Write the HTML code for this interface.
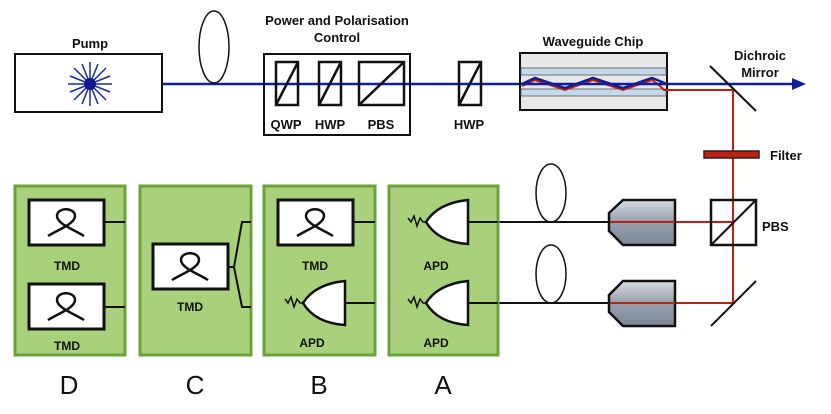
<!DOCTYPE html>
<html><head><meta charset="utf-8"><style>body{margin:0;background:#fff}svg{display:block}text{font-family:"Liberation Sans",sans-serif;font-weight:bold;fill:#111}</style></head><body>
<svg width="831" height="414" viewBox="0 0 831 414" xmlns="http://www.w3.org/2000/svg">
<defs>
<linearGradient id="g" x1="0" y1="0" x2="0" y2="1"><stop offset="0" stop-color="#d8dce2"/><stop offset="0.45" stop-color="#9aa3b0"/><stop offset="1" stop-color="#7d8797"/></linearGradient>
<g id="tmd"><rect x="0" y="0" width="75" height="45" fill="#fff" stroke="#111" stroke-width="3"/><path d="M19,36 C28,30 46,24 46,16 C46,7 28,7 28,16 C28,24 46,30 55,36" fill="none" stroke="#111" stroke-width="2.5"/></g>
<g id="apd"><path d="M50,0 L50,44 Q20,42 8,22 Q20,3 50,0 Z" fill="#fff" stroke="#111" stroke-width="2.5"/><path d="M-10,18 l3,4 l3,-6 l3,10 l3,-8 l3,4 l3,0" fill="none" stroke="#111" stroke-width="1.5"/></g>
</defs>
<rect x="15" y="54" width="147" height="58" fill="#fff" stroke="#111" stroke-width="2"/>
<text x="90" y="48" font-size="13" text-anchor="middle">Pump</text>
<g stroke="#1a2a9c" stroke-width="1.5">
<line x1="68" y1="84" x2="112" y2="84"/><line x1="90" y1="62" x2="90" y2="106"/>
<line x1="74" y1="68" x2="106" y2="100"/><line x1="74" y1="100" x2="106" y2="68"/>
<line x1="70" y1="76" x2="110" y2="92"/><line x1="70" y1="92" x2="110" y2="76"/>
<line x1="82" y1="64" x2="98" y2="104"/><line x1="98" y1="64" x2="82" y2="104"/>
</g>
<circle cx="90" cy="84" r="6" fill="#0d1a8a"/>
<line x1="162" y1="84" x2="796" y2="84" stroke="#0d1f9a" stroke-width="2.5"/>
<polygon points="806,84 792,78 792,90" fill="#0d1f9a"/>
<ellipse cx="214" cy="47" rx="15" ry="36" fill="none" stroke="#111" stroke-width="1.5"/>
<text x="337" y="25" font-size="13" text-anchor="middle">Power and Polarisation</text>
<text x="337" y="42" font-size="13" text-anchor="middle">Control</text>
<rect x="264" y="54" width="146" height="81" fill="none" stroke="#111" stroke-width="2"/>
<g fill="none" stroke="#111" stroke-width="2.5">
<rect x="276" y="62" width="22" height="43"/><line x1="276" y1="105" x2="298" y2="62"/>
<rect x="319" y="62" width="22" height="43"/><line x1="319" y1="105" x2="341" y2="62"/>
<rect x="359" y="62" width="45" height="43"/><line x1="359" y1="105" x2="404" y2="62"/>
<rect x="459" y="62" width="22" height="43"/><line x1="459" y1="105" x2="481" y2="62"/>
</g>
<text x="286" y="129" font-size="13" text-anchor="middle">QWP</text>
<text x="330" y="129" font-size="13" text-anchor="middle">HWP</text>
<text x="381" y="129" font-size="13" text-anchor="middle">PBS</text>
<text x="469" y="129" font-size="13" text-anchor="middle">HWP</text>
<text x="593" y="46" font-size="13" text-anchor="middle">Waveguide Chip</text>
<rect x="520" y="53" width="147" height="57" fill="#e8e8e8" stroke="#111" stroke-width="2"/>
<rect x="521" y="68" width="145" height="7" fill="#c4d9ea" stroke="#555" stroke-width="0.8"/>
<rect x="521" y="89" width="145" height="7" fill="#c4d9ea" stroke="#555" stroke-width="0.8"/>
<polyline points="522,86 535,80 565,90 593,80 623,90 652,80 660,86 664,90 733,90" fill="none" stroke="#c0200f" stroke-width="2"/>
<polyline points="522,84 535,78 565,88 593,78 623,88 652,78 667,84" fill="none" stroke="#0d1f9a" stroke-width="2.5"/>
<line x1="521" y1="84" x2="667" y2="84" stroke="#0d1f9a" stroke-width="2.5"/>
<polyline points="733,90 733,303 610,303" fill="none" stroke="#c0200f" stroke-width="2"/>
<line x1="610" y1="222" x2="733" y2="222" stroke="#c0200f" stroke-width="2"/>
<line x1="710" y1="66" x2="756" y2="111" stroke="#111" stroke-width="2"/>
<text x="760" y="60" font-size="13" text-anchor="middle">Dichroic</text>
<text x="760" y="77" font-size="13" text-anchor="middle">Mirror</text>
<rect x="704" y="151" width="55" height="7" fill="#c0200f" stroke="#222" stroke-width="1.5"/>
<text x="770" y="160" font-size="13">Filter</text>
<rect x="711" y="200" width="45" height="45" fill="none" stroke="#111" stroke-width="2.5"/>
<line x1="711" y1="245" x2="756" y2="200" stroke="#111" stroke-width="2"/>
<text x="762" y="231" font-size="13">PBS</text>
<line x1="711" y1="326" x2="756" y2="281" stroke="#111" stroke-width="2"/>
<path d="M623,200 L675,200 L675,245 L623,245 L609,231 L609,213 Z" fill="url(#g)" stroke="#111" stroke-width="2.5"/>
<path d="M623,281 L675,281 L675,326 L623,326 L609,312 L609,295 Z" fill="url(#g)" stroke="#111" stroke-width="2.5"/>
<line x1="610" y1="222" x2="675" y2="222" stroke="#c0200f" stroke-width="2"/>
<line x1="610" y1="303" x2="675" y2="303" stroke="#c0200f" stroke-width="2"/>
<line x1="468" y1="222" x2="609" y2="222" stroke="#111" stroke-width="2"/>
<line x1="468" y1="303" x2="609" y2="303" stroke="#111" stroke-width="2"/>
<ellipse cx="551" cy="193" rx="15" ry="29" fill="none" stroke="#111" stroke-width="1.5"/>
<ellipse cx="551" cy="274" rx="15" ry="29" fill="none" stroke="#111" stroke-width="1.5"/>
<g fill="#a9d07b" stroke="#6aa33a" stroke-width="3">
<rect x="15" y="186" width="110" height="169"/><rect x="140" y="186" width="111" height="169"/>
<rect x="264" y="186" width="111" height="169"/><rect x="389" y="186" width="109" height="169"/>
</g>
<g stroke="#111" stroke-width="2" fill="none">
<line x1="104" y1="222" x2="125" y2="222"/><line x1="104" y1="307" x2="125" y2="307"/>
<polyline points="227,267 234,267 242,222 251,222"/><polyline points="234,267 242,307 251,307"/>
<line x1="353" y1="222" x2="375" y2="222"/><line x1="345" y1="303" x2="375" y2="303"/>
<line x1="468" y1="222" x2="498" y2="222"/><line x1="468" y1="303" x2="498" y2="303"/>
</g>
<use href="#tmd" x="29" y="200"/><use href="#tmd" x="29" y="284"/>
<use href="#tmd" x="153" y="244"/><use href="#tmd" x="278" y="200"/>
<use href="#apd" x="295" y="281"/><use href="#apd" x="418" y="200"/><use href="#apd" x="418" y="281"/>
<g font-size="12" text-anchor="middle">
<text x="67" y="270">TMD</text><text x="67" y="350">TMD</text>
<text x="190" y="311">TMD</text><text x="315" y="270">TMD</text><text x="312" y="347">APD</text>
<text x="436" y="270">APD</text><text x="436" y="347">APD</text>
</g>
<g font-size="26" text-anchor="middle">
<text x="69" y="394" style="font-weight:normal">D</text><text x="195" y="394" style="font-weight:normal">C</text>
<text x="319" y="394" style="font-weight:normal">B</text><text x="443" y="394" style="font-weight:normal">A</text>
</g>
</svg>
</body></html>
